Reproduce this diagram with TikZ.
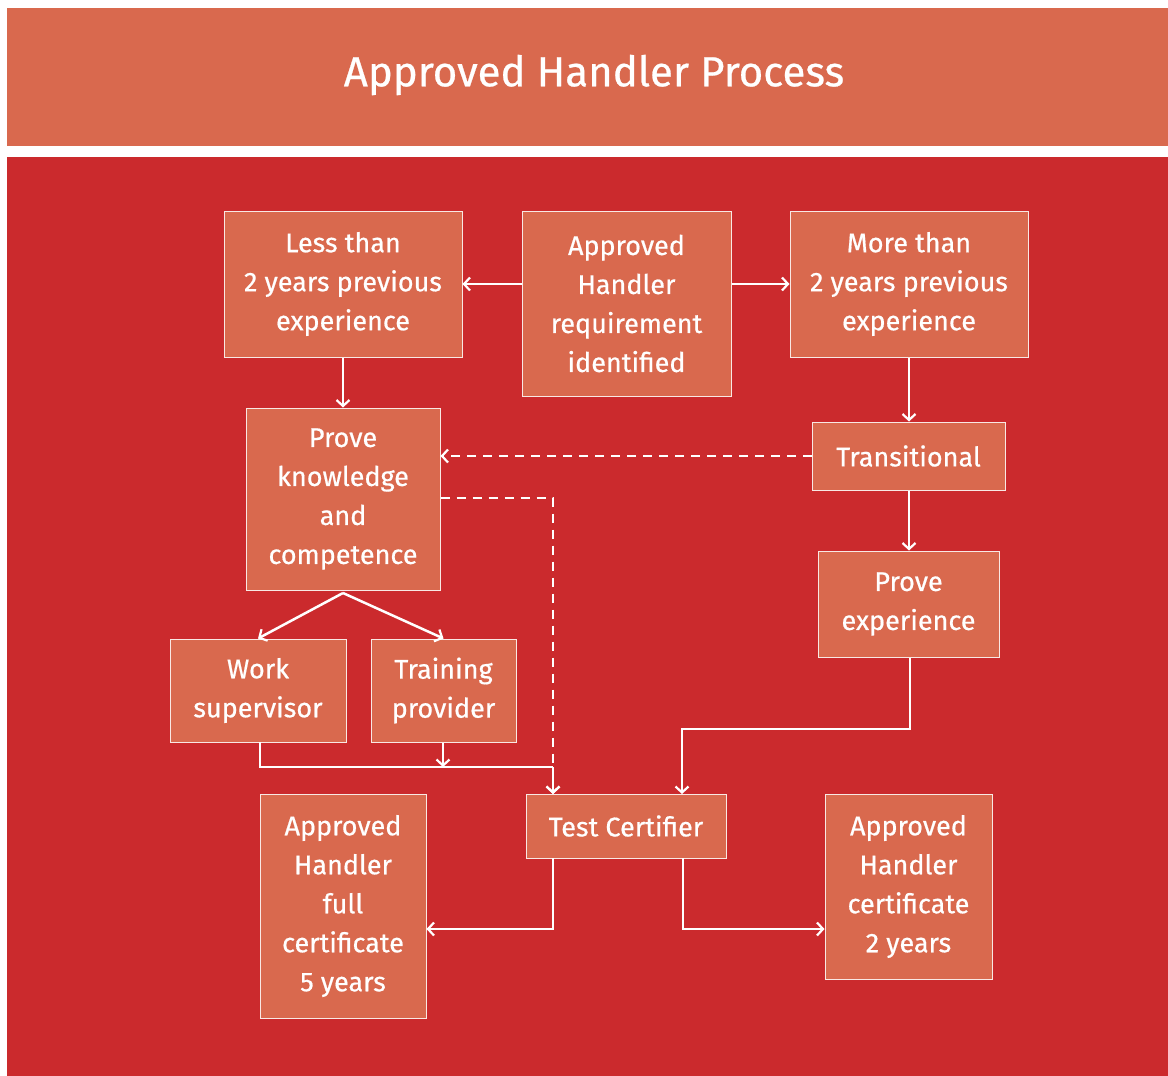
\documentclass[tikz,border=0pt]{standalone}
\usepackage{fontspec}
\setmainfont{Fira Sans}[FakeBold=0.6]
\usetikzlibrary{arrows.meta}
\definecolor{boxor}{HTML}{D9694E}
\definecolor{bgred}{HTML}{CB2A2D}
\begin{document}
\begin{tikzpicture}[x=1pt,y=-1pt,
  box/.style={draw=white!85!boxor,line width=1pt,fill=boxor,text=white,align=center,
    inner sep=0pt,font=\fontsize{27}{39}\selectfont},
  conn/.style={draw=white,line width=2.5pt,-{Straight Barb[length=6pt,width=13pt,line width=2.2pt]}},
  plain/.style={draw=white,line width=2.5pt},
  dconn/.style={conn,dash pattern=on 9pt off 7pt}]
\useasboundingbox (0,0) rectangle (1168,1076);
\fill[white] (0,0) rectangle (1168,1076);
\fill[boxor] (7,8) rectangle (1168,146);
\fill[bgred] (7,157) rectangle (1168,1076);
\node[text=white,font=\fontsize{42}{48}\selectfont] (title) at (594,75) {Approved Handler Process};
\node[box,minimum width=238pt,minimum height=146pt] (less) at (343,284) {Less than\\2 years previous\\experience};
\node[box,minimum width=209pt,minimum height=185pt] (req) at (626.5,303.5) {Approved\\Handler\\requirement\\identified};
\node[box,minimum width=238pt,minimum height=146pt] (more) at (909,284) {More than\\2 years previous\\experience};
\node[box,minimum width=194pt,minimum height=182pt] (know) at (343,499) {Prove\\knowledge\\and\\competence};
\node[box,minimum width=193pt,minimum height=68pt] (trans) at (908.5,456) {Transitional};
\node[box,minimum width=181pt,minimum height=106pt] (exp) at (908.5,604) {Prove\\experience};
\node[box,minimum width=176pt,minimum height=103pt] (work) at (258,690.5) {Work\\supervisor};
\node[box,minimum width=145pt,minimum height=103pt] (train) at (443.5,690.5) {Training\\provider};
\node[box,minimum width=200pt,minimum height=64pt] (test) at (626,826) {Test Certifier};
\node[box,minimum width=166pt,minimum height=224pt] (full) at (343,906) {Approved\\Handler\\full\\certificate\\5 years};
\node[box,minimum width=167pt,minimum height=185pt] (two) at (908.5,886.5) {Approved\\Handler\\certificate\\2 years};
\coordinate (trJ) at (443,767);
\draw[conn] (req.west |- less.east) -- (less.east);
\draw[conn] (req.east |- more.west) -- (more.west);
\draw[conn] (less.south) -- (know.north);
\draw[conn] (more.south) -- (more.south |- trans.north);
\draw[conn] (trans.south -| more.south) -- (exp.north -| more.south);
\draw[dconn] (trans.west) -- (trans.west -| know.east);
\draw[dconn] (know.east |- 0,498) -| (553,794);
\draw[conn] (343,593) -- (work.north);
\draw[conn] (343,593) -- (train.north);
\draw[plain] (260,742) |- (trJ) -- (553,767);
\draw[conn] (553,767) -- (553,794);
\draw[conn] (train.south -| trJ) -- (trJ);
\draw[conn] (exp.south -| 910,0) |- (682,729) -- (682,794);
\draw[conn] (553,858) |- (full.east |- 0,929);
\draw[conn] (683,858) |- (two.west |- 0,929);
\end{tikzpicture}
\end{document}
